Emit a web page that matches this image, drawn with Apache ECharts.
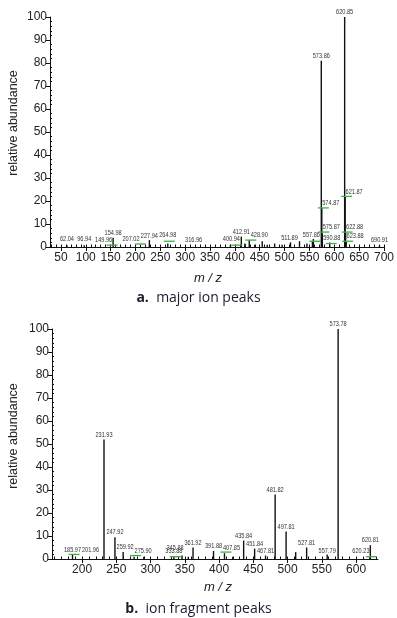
<!DOCTYPE html>
<html><head><meta charset="utf-8">
<script src="https://cdn.jsdelivr.net/npm/echarts@6/dist/echarts.min.js"></script>
<style>html,body{margin:0;padding:0;background:#fff}#c{width:397px;height:618px}</style>
</head><body><div id="c"></div>
<script>
// ---- Chart a: major ion peaks ----
const aPeakMz  = [62.04, 96.94, 154.98, 227.94, 264.98, 391, 412.91, 420, 428.90, 440, 455, 465, 480, 495, 511.89, 530, 545, 556, 557.86, 573.86, 574.87, 575.87, 590.88, 620.85, 621.87, 622.88, 623.88, 690.91];
const aPeakInt = [0.8, 0.8, 4, 3, 1.5, 1, 4.5, 1.5, 3, 1, 2.5, 1, 1.5, 1, 2, 2.5, 1.5, 2.5, 3.5, 81, 17, 6, 2, 100, 22, 6.5, 2.5, 0.5];
const aLabelMz  = [62.04, 96.94, 149.96, 154.98, 207.02, 227.94, 264.98, 316.96, 400.94, 412.91, 428.90, 511.89, 557.86, 573.86, 574.87, 575.87, 590.88, 620.85, 621.87, 622.88, 623.88, 690.91];
const aLabelInt = [1.2, 1.2, 0.8, 4, 1.3, 2.5, 3, 1, 1.2, 4.5, 3, 1.8, 3, 81, 17, 6.5, 2, 100, 22, 6.5, 2.5, 1];
const aGreenMz  = [149.96, 207.02, 264.98, 400.94, 428.90, 557.86, 574.87, 575.87, 590.88, 621.87, 622.88, 623.88];
const aGreenInt = [0.8, 1.3, 2.5, 0.8, 3, 2.5, 17, 6.5, 1.5, 22, 6.5, 2.5];
const aXTicks = [50,100,150,200,250,300,350,400,450,500,550,600,650,700];

// ---- Chart b: ion fragment peaks ----
const bPeakMz  = [185.97, 231.93, 247.92, 259.92, 275.90, 290, 333.88, 345.88, 355, 361.92, 391.88, 407.85, 420, 435.84, 451.84, 467.81, 481.82, 497.81, 511.8, 527.81, 557.79, 573.78, 620.23, 620.81];
const bPeakInt = [2, 52, 9.5, 3, 1, 1, 1, 1.5, 1, 5, 3.5, 2.5, 1, 8, 4.5, 1.5, 28, 12, 3, 5, 2, 100, 1, 6];
const bLabelMz  = [185.97, 201.96, 231.93, 247.92, 259.92, 275.90, 333.88, 345.88, 361.92, 391.88, 407.85, 435.84, 451.84, 467.81, 481.82, 497.81, 527.81, 557.79, 573.78, 620.23, 620.81];
const bLabelInt = [2, 2, 52, 9.5, 3, 1.5, 1.5, 2.5, 5, 3.5, 2.5, 8, 4.5, 1.5, 28, 12, 5, 1.5, 100, 1.5, 6];
const bGreenMz  = [185.97, 275.90, 333.88, 407.85, 620.23];
const bGreenInt = [2, 1.5, 1, 3, 1];
const bXTicks = [200,250,300,350,400,450,500,550,600];

function zip(a, b){ return a.map((v,i)=>[v,b[i]]); }
function range(s,e,st){ const r=[]; for(let v=s; v<=e; v+=st) r.push(v); return r; }
const yMinor = range(0,100,2).filter(v=>v%10!==0);

const FONT = "'Liberation Sans', Arial, sans-serif";

function stickSeries(xi, yi, mz, it){
  return {
    type:'custom', xAxisIndex:xi, yAxisIndex:yi, data: zip(mz,it), z:3,
    renderItem:(params, api)=>{
      const p0 = api.coord([api.value(0), 0]);
      const p1 = api.coord([api.value(0), api.value(1)]);
      return {type:'line', shape:{x1:p0[0],y1:p0[1],x2:p1[0],y2:p1[1]}, style:{stroke:'#111', lineWidth:1.4}};
    }
  };
}
function greenSeries(xi, yi, mz, it){
  return {
    type:'custom', xAxisIndex:xi, yAxisIndex:yi, data: zip(mz,it), z:4,
    renderItem:(params, api)=>{
      const p = api.coord([api.value(0), api.value(1)]);
      return {type:'line', shape:{x1:p[0]-4,y1:p[1],x2:p[0]+7,y2:p[1]}, style:{stroke:'#3cb043', lineWidth:1.3}};
    }
  };
}

function xAxes(gi, min, max, ticks){
  return [
    {type:'value', gridIndex:gi, min:min, max:max, splitLine:{show:false},
     axisLine:{onZero:false, lineStyle:{color:'#111', width:1}},
     axisTick:{customValues:ticks, length:4, lineStyle:{color:'#111'}},
     axisLabel:{customValues:ticks, color:'#222', fontSize:12, fontFamily:FONT, margin:5}},
    {type:'value', gridIndex:gi, min:min, max:max, splitLine:{show:false},
     axisLine:{show:false},
     axisTick:{customValues:range(Math.ceil(min/10)*10, max, 10), length:2.5, lineStyle:{color:'#111'}},
     axisLabel:{show:false}}
  ];
}
function yAxes(gi){
  return [
    {type:'value', gridIndex:gi, min:0, max:100, interval:10, position:'left',
     splitLine:{show:false},
     axisLine:{show:true, lineStyle:{color:'#111', width:1}},
     axisTick:{show:true, length:4, lineStyle:{color:'#111'}},
     axisLabel:{color:'#222', fontSize:12, fontFamily:FONT, margin:3}},
    {type:'value', gridIndex:gi, min:0, max:100, position:'left',
     splitLine:{show:false}, axisLine:{show:false},
     axisTick:{show:true, inside:true, customValues:yMinor, length:2, lineStyle:{color:'#111'}},
     axisLabel:{show:false}}
  ];
}

const captionStyle = {fontSize:14, fontFamily:"'Open Sans', sans-serif", fontWeight:'normal', color:'#1c1c2e',
  rich:{b:{fontSize:14, fontWeight:'bold', fontFamily:"'Open Sans', sans-serif", color:'#1c1c2e'}}};

const chart = echarts.init(document.getElementById('c'), null, {renderer:'canvas'});
const baseGraphics = [
  {type:'text', x:208, y:278, style:{text:'m / z', font:"italic 13px 'Liberation Sans', Arial, sans-serif", fill:'#222', textAlign:'center', textVerticalAlign:'middle'}},
  {type:'text', x:218, y:587, style:{text:'m / z', font:"italic 13px 'Liberation Sans', Arial, sans-serif", fill:'#222', textAlign:'center', textVerticalAlign:'middle'}},
  {type:'text', x:14, y:123, rotation:Math.PI/2, style:{text:'relative abundance', font:"12.5px 'Liberation Sans', Arial, sans-serif", fill:'#222', textAlign:'center', textVerticalAlign:'middle'}},
  {type:'text', x:14, y:436, rotation:Math.PI/2, style:{text:'relative abundance', font:"12.5px 'Liberation Sans', Arial, sans-serif", fill:'#222', textAlign:'center', textVerticalAlign:'middle'}}
];
chart.setOption({
  animation:false,
  backgroundColor:'#fff',
  grid:[
    {left:50, top:17, width:334, height:230},
    {left:52, top:329, width:326, height:230}
  ],
  xAxis:[...xAxes(0, 28, 700, aXTicks), ...xAxes(1, 156, 632, bXTicks)],
  yAxis:[...yAxes(0), ...yAxes(1)],
  title:[
    {text:'{b|a.}  major ion peaks', left:'center', top:286, textStyle:captionStyle},
    {text:'{b|b.}  ion fragment peaks', left:'center', top:597, textStyle:captionStyle}
  ],
  graphic: baseGraphics,
  series:[
    stickSeries(0, 0, aPeakMz, aPeakInt),
    greenSeries(0, 0, aGreenMz, aGreenInt),
    stickSeries(2, 2, bPeakMz, bPeakInt),
    greenSeries(2, 2, bGreenMz, bGreenInt)
  ]
});

// ---- peak labels: placed at each peak top through the axis scales, nudged sideways to avoid overlaps ----
const LFS = 8, LSX = 0.7, LH = 6.5;
const mctx = document.createElement('canvas').getContext('2d');
mctx.font = LFS + "px 'Liberation Sans', Arial, sans-serif";
function layoutLabels(xi, yi, labMz, labInt, lineMz, lineInt){
  const finder = {xAxisIndex:xi, yAxisIndex:yi};
  const lines = lineMz.map((m,i)=>{ const p = chart.convertToPixel(finder,[m,lineInt[i]]); return {x:p[0], top:p[1]}; });
  const items = labMz.map((m,i)=>({m, v:labInt[i], t:m.toFixed(2)})).sort((a,b)=>b.v-a.v);
  const placed = [], out = [];
  const offsets = [0]; for(let k=1;k<=40;k++){ offsets.push(-k, k); }
  items.forEach(it=>{
    const p = chart.convertToPixel(finder,[it.m,it.v]);
    const w = mctx.measureText(it.t).width*LSX;
    const bottom = p[1]-1.5, top = bottom-LH;
    let cx = p[0];
    for(const off of offsets){
      const c = p[0]+off, x0 = c-w/2, x1 = c+w/2;
      const hitBox = placed.some(b=> x0 < b.x1+0.5 && x1 > b.x0-0.5 && top < b.y1 && bottom > b.y0);
      const hitLine = lines.some(l=> l.x > x0-0.8 && l.x < x1+0.8 && l.top < bottom && Math.abs(l.x-p[0])>0.3);
      if(!hitBox && !hitLine){ cx = c; break; }
    }
    placed.push({x0:cx-w/2, x1:cx+w/2, y0:top, y1:bottom});
    out.push({type:'text', x:cx, y:bottom+0.5, scaleX:LSX, z:10,
      style:{text:it.t, font:LFS+"px 'Liberation Sans', Arial, sans-serif", fill:'#333', textAlign:'center', textVerticalAlign:'bottom'}});
  });
  return out;
}
const labelGraphics = [
  ...layoutLabels(0, 0, aLabelMz, aLabelInt, aPeakMz, aPeakInt),
  ...layoutLabels(2, 2, bLabelMz, bLabelInt, bPeakMz, bPeakInt)
];
chart.setOption({graphic: baseGraphics.concat(labelGraphics)});
</script></body></html>
